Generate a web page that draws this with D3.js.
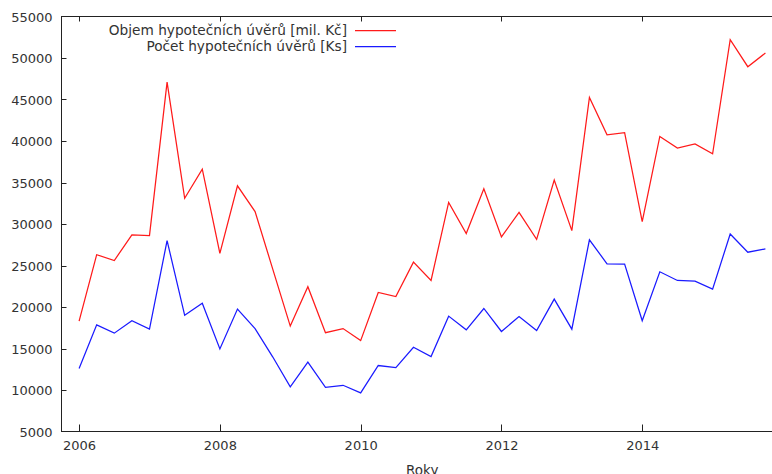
<!DOCTYPE html>
<html>
<head>
<meta charset="utf-8">
<script src="https://cdn.jsdelivr.net/npm/d3@7"></script>
<style>
  html, body { margin: 0; padding: 0; background: #fff; }
  svg { display: block; }
  text { font-family: "DejaVu Sans", Verdana, sans-serif; font-size: 13px; fill: #333; }
</style>
</head>
<body>
<svg id="chart" width="772" height="474"></svg>
<script>
// Quarterly observations, 2006 Q1 – 2015 Q4
const quarters = d3.range(40).map(i => 2006 + i * 0.25);

// Objem hypotečních úvěrů [mil. Kč]
const objem = [
  18300, 26300, 25600, 28700, 28600, 47100, 33100, 36600,
  26450, 34600, 31500, 24600, 17700, 22450, 16900, 17400,
  15950, 21750, 21250, 25400, 23200, 32600, 28850, 34250,
  28450, 31400, 28150, 35300, 29200, 45250, 40750, 41000,
  30300, 40550, 39150, 39650, 38450, 52200, 48950, 50600
];

// Počet hypotečních úvěrů [Ks]
const pocet = [
  12600, 17850, 16850, 18350, 17330, 28000, 19000, 20450,
  14950, 19750, 17400, 14000, 10380, 13350, 10330, 10570,
  9650, 12950, 12700, 15150, 14030, 18900, 17250, 19820,
  17050, 18850, 17170, 20950, 17330, 28100, 25200, 25170,
  18350, 24240, 23200, 23110, 22150, 28800, 26600, 27000
];

const xTicks = [2006, 2008, 2010, 2012, 2014];
const yTicks = d3.range(5000, 55001, 5000);

const seriesNames = ["Objem hypotečních úvěrů [mil. Kč]", "Počet hypotečních úvěrů [Ks]"];
const seriesColors = ["#ff1a1a", "#1a1aff"];

const svg = d3.select("#chart");
const plotL = 61.5, plotR = 783, plotT = 16.5, plotB = 431.5;

const x = d3.scaleLinear().domain([2005.75, 2016]).range([plotL, plotR]);
const y = d3.scaleLinear().domain([5000, 55000]).range([plotB, plotT]);

// frame
svg.append("rect")
  .attr("x", plotL).attr("y", plotT)
  .attr("width", plotR - plotL).attr("height", plotB - plotT)
  .attr("fill", "none").attr("stroke", "#222").attr("stroke-width", 1);

// y axis: labels outside, ticks pointing inward
const yAxis = svg.append("g").attr("transform", `translate(${plotL},0)`)
  .call(d3.axisLeft(y).tickValues(yTicks).tickSize(0).tickPadding(9).tickFormat(d3.format("d")));
yAxis.select(".domain").remove();
yAxis.selectAll("text").style("font-size", "13px").attr("fill", "#333").attr("dy", "0.36em");
svg.append("g").selectAll("line").data(yTicks.slice(1, -1)).join("line")
  .attr("x1", plotL).attr("x2", plotL + 5)
  .attr("y1", d => Math.round(y(d)) + 0.5).attr("y2", d => Math.round(y(d)) + 0.5)
  .attr("stroke", "#222");

// x axis: labels below, ticks pointing inward (bottom and mirrored top)
const xAxis = svg.append("g").attr("transform", `translate(0,${plotB})`)
  .call(d3.axisBottom(x).tickValues(xTicks).tickSize(0).tickPadding(9).tickFormat(d3.format("d")));
xAxis.select(".domain").remove();
xAxis.selectAll("text").style("font-size", "13px").attr("fill", "#333");
svg.append("g").selectAll("line").data(xTicks).join("line")
  .attr("x1", d => Math.round(x(d)) + 0.5).attr("x2", d => Math.round(x(d)) + 0.5)
  .attr("y1", plotB).attr("y2", plotB - 7)
  .attr("stroke", "#222");
svg.append("g").selectAll("line").data(xTicks).join("line")
  .attr("x1", d => Math.round(x(d)) + 0.5).attr("x2", d => Math.round(x(d)) + 0.5)
  .attr("y1", plotT).attr("y2", plotT + 5)
  .attr("stroke", "#222");

// axis title (runs off the lower edge of the canvas)
svg.append("text")
  .attr("x", (plotL + plotR) / 2).attr("y", 475)
  .attr("text-anchor", "middle")
  .style("font-size", "13.5px")
  .text("Roky");

// series lines
const line = d3.line().x((d, i) => x(quarters[i])).y(d => y(d));
[objem, pocet].forEach((vals, k) => {
  svg.append("path")
    .datum(vals)
    .attr("d", line)
    .attr("fill", "none")
    .attr("stroke", seriesColors[k])
    .attr("stroke-width", 1.25)
    .attr("stroke-linejoin", "miter");
});

// legend
const legend = svg.append("g");
seriesNames.forEach((name, k) => {
  const ly = 30.5 + k * 16;
  legend.append("text")
    .attr("x", 347).attr("y", ly).attr("dy", "0.36em")
    .attr("text-anchor", "end")
    .style("font-size", "13.7px")
    .text(name);
  legend.append("line")
    .attr("x1", 355).attr("x2", 396)
    .attr("y1", ly).attr("y2", ly)
    .attr("stroke", seriesColors[k]).attr("stroke-width", 1.25);
});
</script>
</body>
</html>
